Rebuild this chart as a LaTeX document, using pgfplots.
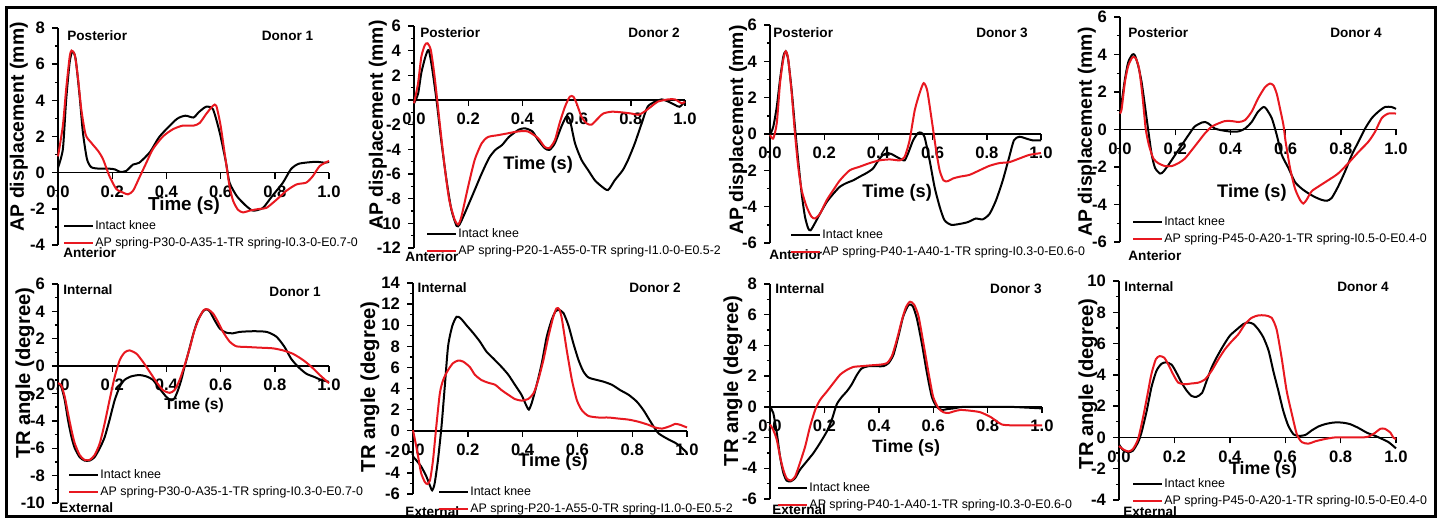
\documentclass[border=0pt]{standalone}
\usepackage{pgfplots}
\pgfplotsset{compat=1.18}
\usepackage{fontspec}
\setmainfont{Liberation Sans}
\definecolor{myred}{RGB}{232,24,32}
\newcommand{\lab}{\fontsize{6.8}{7}\selectfont\bfseries}
\tikzset{lb/.style={font=\lab, inner sep=0pt}}
\pgfplotsset{
 panel/.style={
  scale only axis, clip=false,
  xmin=0,xmax=1, xtick={0,0.2,0.4,0.6,0.8,1.0},
  axis x line=middle, axis y line=left, axis line style={-, line width=0.8pt},
  hide obscured x ticks=false, hide obscured y ticks=false,
  tick align=outside, major tick length=3pt, minor tick length=1.6pt,
  every tick/.style={black, line width=0.7pt},
  minor y tick num=1, minor x tick num=0,
  tick label style={font=\fontsize{8.3}{9}\selectfont\bfseries},
  /pgf/number format/assume math mode=true,
  xticklabel style={/pgf/number format/.cd, fixed, fixed zerofill, precision=1},
  legend cell align=left,
  legend image code/.code={\draw[##1] (0pt,0pt) -- (14.5pt,0pt);},
  legend style={draw=none, fill=none, anchor=north west, font=\fontsize{6.2}{7}\selectfont, inner sep=0pt, row sep=1.5pt, nodes={inner sep=0.5pt, text height=4.6pt, text depth=1.4pt}},
  x label style={anchor=center, font=\fontsize{9.1}{10}\selectfont\bfseries},
  y label style={anchor=center, font=\fontsize{9.7}{10}\selectfont\bfseries},
  xlabel={Time (s)},
 },
 blk/.style={black, line width=1pt, smooth, tension=0.4},
 rd/.style={color=myred, line width=1pt, smooth, tension=0.4},
}
\begin{document}
\begin{tikzpicture}
\useasboundingbox (0,0) rectangle (720pt,260pt);
% ---------------- Panel 1 ----------------
\begin{axis}[panel, at={(29pt,137.5pt)}, anchor=south west, width=135.5pt, height=108.5pt,
  ymin=-4, ymax=8, ytick={-4,-2,...,8},
  ylabel={AP displacement (mm)}, y label style={at={(axis description cs:-0.144,0.545)}},
  x label style={at={(axis description cs:0.465,0.18)}, font=\fontsize{9.4}{10}\selectfont\bfseries},
  legend style={at={(axis description cs:0.018,0.12)}}]
\addplot[blk] coordinates {(0,0.28) (0.018,1.3) (0.03,4.0) (0.043,6.1) (0.053,6.7) (0.065,6.3) (0.08,4.2) (0.092,2.2) (0.107,0.75) (0.123,0.3) (0.154,0.22) (0.19,0.22) (0.21,0.18) (0.23,0.04) (0.252,0.1) (0.277,0.45) (0.3,0.55) (0.34,1.15) (0.375,2.0) (0.437,2.95) (0.47,3.15) (0.5,3.05) (0.52,3.35) (0.547,3.65) (0.572,3.5) (0.597,2.2) (0.62,0.55) (0.633,-0.55) (0.66,-1.3) (0.695,-1.85) (0.72,-2.1) (0.756,-1.95) (0.79,-1.3) (0.83,-0.55) (0.86,0.2) (0.89,0.5) (0.95,0.6) (0.985,0.55) (1.0,0.6)};
\addlegendentry{Intact knee}
\addplot[rd] coordinates {(0,0.9) (0.018,2.6) (0.03,4.6) (0.043,6.4) (0.05,6.75) (0.062,6.5) (0.074,5.2) (0.086,3.5) (0.102,2.1) (0.123,1.65) (0.148,1.2) (0.166,0.75) (0.19,-0.2) (0.215,-0.9) (0.24,-1.1) (0.258,-1.2) (0.277,-1.0) (0.3,-0.28) (0.326,0.55) (0.35,1.3) (0.387,2.0) (0.424,2.4) (0.46,2.6) (0.5,2.6) (0.523,2.75) (0.547,3.25) (0.572,3.7) (0.584,3.7) (0.6,2.6) (0.62,0.55) (0.633,-0.75) (0.646,-1.55) (0.664,-2.05) (0.683,-2.2) (0.707,-2.1) (0.744,-2.0) (0.769,-1.95) (0.806,-1.5) (0.843,-1.0) (0.88,-0.65) (0.916,-0.55) (0.94,-0.2) (0.966,0.37) (1.0,0.65)};
\addlegendentry{AP spring-P30-0-A35-1-TR spring-I0.3-0-E0.7-0}
\node[lb, anchor=west] at (axis description cs:0.033,0.963) {Posterior};
\node[lb] at (axis description cs:0.847,0.963) {Donor 1};
\node[lb, anchor=west] at (axis description cs:0.018,-0.037) {Anterior};
\end{axis}
% ---------------- Panel 2 ----------------
\begin{axis}[panel, at={(207pt,136pt)}, anchor=south west, width=135.5pt, height=111pt,
  ymin=-12, ymax=6, ytick={-12,-10,...,6},
  ylabel={AP displacement (mm)}, y label style={at={(axis description cs:-0.133,0.554)}},
  x label style={at={(axis description cs:0.458,0.374)}},
  legend style={at={(axis description cs:0.044,0.095)}}]
\addplot[blk] coordinates {(0,-0.27) (0.015,0.5) (0.027,2.2) (0.042,3.5) (0.054,4.05) (0.066,2.7) (0.083,0) (0.1,-3.2) (0.12,-6.5) (0.138,-8.9) (0.157,-10.2) (0.168,-10.1) (0.187,-9.2) (0.224,-7.3) (0.25,-5.95) (0.277,-4.7) (0.3,-4.05) (0.325,-3.65) (0.35,-3.0) (0.387,-2.4) (0.41,-2.3) (0.437,-2.55) (0.458,-3.25) (0.482,-3.9) (0.5,-4.05) (0.52,-3.5) (0.544,-2.15) (0.562,-1.35) (0.575,-1.6) (0.594,-3.5) (0.618,-4.85) (0.643,-5.7) (0.667,-6.5) (0.692,-7.0) (0.716,-7.3) (0.741,-6.5) (0.77,-5.7) (0.79,-4.85) (0.815,-3.5) (0.84,-1.9) (0.862,-0.55) (0.89,-0.13) (0.914,0.05) (0.938,-0.13) (0.963,-0.4) (0.98,-0.55) (1.0,-0.13)};
\addlegendentry{Intact knee}
\addplot[rd] coordinates {(0,-0.27) (0.015,1.35) (0.027,3.5) (0.04,4.45) (0.05,4.6) (0.062,4.05) (0.076,1.9) (0.095,-1.9) (0.113,-5.4) (0.13,-8.1) (0.15,-9.7) (0.163,-10.1) (0.175,-9.45) (0.2,-7.0) (0.224,-4.85) (0.25,-3.5) (0.273,-3.0) (0.31,-2.85) (0.347,-2.7) (0.384,-2.55) (0.42,-2.55) (0.458,-3.1) (0.482,-3.8) (0.5,-3.9) (0.52,-3.25) (0.537,-1.9) (0.557,-0.55) (0.575,0.27) (0.588,0.27) (0.6,-0.27) (0.618,-1.35) (0.637,-1.9) (0.655,-2.0) (0.674,-1.6) (0.698,-1.1) (0.73,-0.95) (0.766,-1.0) (0.803,-1.1) (0.828,-1.2) (0.85,-0.95) (0.877,-0.5) (0.9,-0.13) (0.938,0.05) (0.963,0.05) (0.988,-0.27) (1.0,-0.13)};
\addlegendentry{AP spring-P20-1-A55-0-TR spring-I1.0-0-E0.5-2}
\node[lb, anchor=west] at (axis description cs:0.022,0.968) {Posterior};
\node[lb] at (axis description cs:0.886,0.968) {Donor 2};
\node[lb, anchor=west] at (axis description cs:-0.033,-0.04) {Anterior};
\end{axis}
% ---------------- Panel 3 ----------------
\begin{axis}[panel, at={(385pt,138.5pt)}, anchor=south west, width=135.5pt, height=109pt,
  ymin=-6, ymax=6, ytick={-6,-4,...,6},
  ylabel={AP displacement (mm)}, y label style={at={(axis description cs:-0.118,0.518)}},
  x label style={at={(axis description cs:0.469,0.229)}},
  legend style={at={(axis description cs:0.074,0.069)}}]
\addplot[blk] coordinates {(0,-0.05) (0.012,0.4) (0.025,1.5) (0.037,3.0) (0.049,4.25) (0.058,4.55) (0.067,4.1) (0.08,2.4) (0.092,0.4) (0.104,-1.45) (0.117,-3.3) (0.129,-4.55) (0.141,-5.2) (0.15,-5.3) (0.166,-4.9) (0.184,-4.4) (0.209,-3.75) (0.233,-3.3) (0.258,-2.9) (0.282,-2.7) (0.307,-2.55) (0.331,-2.35) (0.356,-2.15) (0.38,-1.9) (0.4,-1.45) (0.417,-1.15) (0.436,-1.05) (0.448,-1.1) (0.466,-1.25) (0.485,-1.4) (0.497,-1.45) (0.51,-1.05) (0.528,-0.35) (0.546,0.05) (0.558,0.07) (0.57,-0.15) (0.589,-1.45) (0.607,-2.9) (0.626,-4.0) (0.644,-4.75) (0.669,-5.0) (0.7,-4.95) (0.73,-4.85) (0.76,-4.65) (0.785,-4.7) (0.81,-4.4) (0.834,-3.65) (0.859,-2.55) (0.883,-1.25) (0.9,-0.35) (0.92,-0.15) (0.945,-0.25) (0.969,-0.35) (1.0,-0.35)};
\addlegendentry{Intact knee}
\addplot[rd] coordinates {(0,-0.05) (0.012,-0.25) (0.025,0.6) (0.037,2.8) (0.049,4.1) (0.058,4.55) (0.067,4.15) (0.08,2.25) (0.092,0.05) (0.104,-1.8) (0.117,-3.1) (0.135,-4.0) (0.153,-4.55) (0.166,-4.65) (0.184,-4.4) (0.209,-3.65) (0.233,-3.1) (0.258,-2.55) (0.294,-2.0) (0.331,-1.8) (0.368,-1.6) (0.405,-1.45) (0.442,-1.4) (0.479,-1.45) (0.497,-1.25) (0.515,-0.35) (0.534,1.3) (0.552,2.25) (0.567,2.8) (0.58,2.4) (0.595,0.95) (0.613,-0.9) (0.626,-2.0) (0.64,-2.55) (0.656,-2.6) (0.675,-2.45) (0.7,-2.35) (0.736,-2.25) (0.773,-2.0) (0.81,-1.75) (0.847,-1.6) (0.883,-1.55) (0.92,-1.35) (0.957,-1.15) (1.0,-1.05)};
\addlegendentry{AP spring-P40-1-A40-1-TR spring-I0.3-0-E0.6-0}
\node[lb, anchor=west] at (axis description cs:0.011,0.963) {Posterior};
\node[lb] at (axis description cs:0.856,0.963) {Donor 3};
\node[lb, anchor=west] at (axis description cs:-0.004,-0.055) {Anterior};
\end{axis}
% ---------------- Panel 4 ----------------
\begin{axis}[panel, at={(560pt,139pt)}, anchor=south west, width=138pt, height=112.5pt,
  ymin=-6, ymax=6, ytick={-6,-4,...,6},
  ylabel={AP displacement (mm)}, y label style={at={(axis description cs:-0.12,0.489)}},
  x label style={at={(axis description cs:0.478,0.218)}},
  legend style={at={(axis description cs:0.043,0.12)}}]
\addplot[blk] coordinates {(0,1.05) (0.006,1.45) (0.018,2.7) (0.03,3.6) (0.045,4.0) (0.054,3.95) (0.066,3.4) (0.078,2.55) (0.09,1.3) (0.103,-0.12) (0.115,-1.35) (0.127,-2.05) (0.145,-2.35) (0.157,-2.25) (0.175,-1.9) (0.2,-1.35) (0.223,-0.85) (0.248,-0.3) (0.27,0.15) (0.296,0.37) (0.308,0.4) (0.32,0.32) (0.344,0.05) (0.368,-0.04) (0.405,-0.12) (0.43,-0.1) (0.453,0.05) (0.477,0.4) (0.5,0.95) (0.52,1.2) (0.53,1.1) (0.55,0.6) (0.568,-0.3) (0.586,-1.35) (0.61,-2.05) (0.634,-2.8) (0.658,-3.15) (0.682,-3.4) (0.706,-3.6) (0.73,-3.75) (0.75,-3.8) (0.767,-3.65) (0.79,-3.05) (0.815,-2.25) (0.84,-1.35) (0.864,-0.65) (0.888,0.05) (0.912,0.6) (0.936,0.95) (0.96,1.2) (0.984,1.2) (1.0,1.1)};
\addlegendentry{Intact knee}
\addplot[rd] coordinates {(0,0.85) (0.006,1.1) (0.018,2.55) (0.03,3.4) (0.045,3.85) (0.057,3.8) (0.069,3.25) (0.081,1.85) (0.093,0.05) (0.105,-0.85) (0.121,-1.55) (0.139,-1.8) (0.163,-1.95) (0.187,-1.95) (0.211,-1.8) (0.235,-1.55) (0.26,-1.1) (0.284,-0.65) (0.308,-0.2) (0.332,0.15) (0.356,0.32) (0.38,0.45) (0.405,0.45) (0.43,0.4) (0.453,0.5) (0.477,0.95) (0.5,1.65) (0.525,2.25) (0.543,2.45) (0.556,2.35) (0.568,1.9) (0.58,1.1) (0.592,0.25) (0.6,-0.65) (0.616,-2.05) (0.634,-3.15) (0.652,-3.75) (0.664,-3.95) (0.676,-3.75) (0.694,-3.3) (0.718,-3.05) (0.755,-2.7) (0.79,-2.35) (0.827,-1.8) (0.864,-1.2) (0.9,-0.65) (0.924,-0.12) (0.948,0.6) (0.972,0.85) (1.0,0.85)};
\addlegendentry{AP spring-P45-0-A20-1-TR spring-I0.5-0-E0.4-0}
\node[lb, anchor=west] at (axis description cs:0.029,0.929) {Posterior};
\node[lb] at (axis description cs:0.855,0.929) {Donor 4};
\node[lb, anchor=west] at (axis description cs:0.029,-0.062) {Anterior};
\end{axis}
% ---------------- Panel 5 ----------------
\begin{axis}[panel, at={(29pt,8.5pt)}, anchor=south west, width=135.5pt, height=109.5pt,
  ymin=-10, ymax=6, ytick={-10,-8,...,6},
  ylabel={TR angle (degree)}, y label style={at={(axis description cs:-0.122,0.594)}, font=\fontsize{10.1}{11}\selectfont\bfseries},
  x label style={at={(axis description cs:0.502,0.447)}, font=\fontsize{7.8}{9}\selectfont\bfseries},
  legend style={at={(axis description cs:0.037,0.16)}}]
\addplot[blk] coordinates {(0,-1.25) (0.012,-1.5) (0.025,-2.5) (0.037,-3.95) (0.05,-5.2) (0.062,-6.0) (0.08,-6.65) (0.098,-6.9) (0.117,-6.9) (0.135,-6.65) (0.154,-6.0) (0.172,-5.2) (0.19,-3.95) (0.209,-2.5) (0.228,-1.5) (0.246,-1.0) (0.27,-0.75) (0.3,-0.65) (0.326,-0.75) (0.35,-1.0) (0.375,-1.65) (0.4,-2.25) (0.418,-2.5) (0.43,-2.35) (0.443,-1.75) (0.455,-1.0) (0.467,-0.05) (0.48,0.9) (0.5,2.4) (0.516,3.35) (0.535,4.0) (0.547,4.15) (0.56,4.0) (0.578,3.35) (0.597,2.75) (0.62,2.45) (0.646,2.4) (0.67,2.5) (0.72,2.55) (0.77,2.5) (0.806,2.15) (0.836,1.4) (0.86,0.55) (0.886,-0.05) (0.916,-0.55) (0.947,-0.8) (0.97,-1.0) (1.0,-1.15)};
\addlegendentry{Intact knee}
\addplot[rd] coordinates {(0,-1.25) (0.012,-1.4) (0.025,-2.25) (0.037,-3.45) (0.05,-4.7) (0.062,-5.65) (0.08,-6.5) (0.098,-6.85) (0.117,-6.85) (0.135,-6.5) (0.154,-5.65) (0.172,-4.2) (0.19,-2.5) (0.209,-0.8) (0.228,0.45) (0.246,1.0) (0.264,1.15) (0.29,0.9) (0.314,0.3) (0.338,-0.4) (0.363,-1.15) (0.387,-1.75) (0.412,-1.95) (0.43,-1.75) (0.449,-1.0) (0.467,0.05) (0.486,1.3) (0.504,2.65) (0.523,3.6) (0.538,4.1) (0.553,4.15) (0.572,3.85) (0.59,3.25) (0.609,2.5) (0.633,1.8) (0.658,1.45) (0.695,1.4) (0.744,1.35) (0.793,1.3) (0.83,1.15) (0.867,0.9) (0.904,0.45) (0.935,-0.05) (0.966,-0.65) (1.0,-1.25)};
\addlegendentry{AP spring-P30-0-A35-1-TR spring-I0.3-0-E0.7-0}
\node[lb, anchor=west] at (axis description cs:0.018,0.973) {Internal};
\node[lb] at (axis description cs:0.875,0.963) {Donor 1};
\node[lb, anchor=west] at (axis description cs:0.004,-0.023) {External};
\end{axis}
% ---------------- Panel 6 ----------------
\begin{axis}[panel, at={(206.5pt,13pt)}, anchor=south west, width=137pt, height=105.5pt,
  ymin=-6, ymax=14, ytick={-6,-4,...,14},
  ylabel={TR angle (degree)}, y label style={at={(axis description cs:-0.157,0.507)}, font=\fontsize{10.1}{11}\selectfont\bfseries},
  x label style={at={(axis description cs:0.511,0.152)}},
  legend style={at={(axis description cs:0.091,0.043)}}]
\addplot[blk] coordinates {(0,-2.45) (0.012,-2.8) (0.03,-3.4) (0.049,-4.35) (0.061,-5.15) (0.07,-5.65) (0.079,-5.0) (0.091,-2.8) (0.104,0.4) (0.116,4.2) (0.128,8.0) (0.143,9.9) (0.159,10.8) (0.174,10.65) (0.195,10.0) (0.22,9.25) (0.244,8.45) (0.268,7.5) (0.293,6.85) (0.323,6.05) (0.348,5.3) (0.372,4.35) (0.396,3.4) (0.415,2.3) (0.423,2.0) (0.433,2.6) (0.45,4.2) (0.47,6.4) (0.488,8.9) (0.506,10.5) (0.52,11.3) (0.533,11.45) (0.549,11.15) (0.567,10.0) (0.585,8.3) (0.604,6.7) (0.622,5.6) (0.64,5.05) (0.665,4.85) (0.695,4.65) (0.726,4.35) (0.756,3.85) (0.787,3.4) (0.817,2.75) (0.841,1.95) (0.86,1.15) (0.878,0.4) (0.896,-0.25) (0.927,-0.75) (0.957,-1.15) (0.976,-1.5) (1.0,-2.1)};
\addlegendentry{Intact knee}
\addplot[rd] coordinates {(0,0.05) (0.012,-1.5) (0.021,-2.8) (0.03,-4.05) (0.043,-4.85) (0.052,-5.05) (0.062,-4.7) (0.073,-2.8) (0.085,0.4) (0.098,3.55) (0.11,4.8) (0.128,5.75) (0.146,6.4) (0.165,6.65) (0.183,6.55) (0.207,6.05) (0.226,5.3) (0.25,4.8) (0.274,4.55) (0.3,4.35) (0.323,3.85) (0.348,3.4) (0.372,3.0) (0.396,2.85) (0.42,3.0) (0.44,3.55) (0.457,4.8) (0.476,6.7) (0.494,8.9) (0.512,10.8) (0.524,11.6) (0.534,11.5) (0.543,10.65) (0.561,7.65) (0.58,4.8) (0.598,2.9) (0.616,1.95) (0.64,1.4) (0.677,1.25) (0.713,1.25) (0.75,1.15) (0.787,1.05) (0.823,0.85) (0.86,0.55) (0.884,0.3) (0.909,0.2) (0.94,0.45) (0.957,0.65) (0.976,0.55) (1.0,0.3)};
\addlegendentry{AP spring-P20-1-A55-0-TR spring-I1.0-0-E0.5-2}
\node[lb, anchor=west] at (axis description cs:0.015,0.976) {Internal};
\node[lb] at (axis description cs:0.883,0.976) {Donor 2};
\node[lb, anchor=west] at (axis description cs:-0.029,-0.085) {External};
\end{axis}
% ---------------- Panel 7 ----------------
\begin{axis}[panel, at={(385pt,10.5pt)}, anchor=south west, width=136pt, height=107.5pt,
  ymin=-6, ymax=8, ytick={-6,-4,...,8},
  ylabel={TR angle (degree)}, y label style={at={(axis description cs:-0.136,0.549)}, font=\fontsize{10.1}{11}\selectfont\bfseries},
  x label style={at={(axis description cs:0.5,0.237)}, font=\fontsize{8.9}{10}\selectfont\bfseries},
  legend style={at={(axis description cs:0.026,0.084)}}]
\addplot[blk] coordinates {(0,0.0) (0.012,-0.4) (0.025,-1.7) (0.037,-3.25) (0.049,-4.3) (0.061,-4.8) (0.076,-4.85) (0.092,-4.65) (0.11,-4.1) (0.135,-3.55) (0.16,-3.0) (0.184,-2.35) (0.209,-1.6) (0.227,-0.85) (0.245,0.15) (0.264,0.65) (0.282,1.0) (0.3,1.45) (0.32,2.1) (0.337,2.5) (0.362,2.65) (0.393,2.65) (0.417,2.65) (0.436,2.85) (0.454,3.4) (0.472,4.6) (0.49,5.9) (0.51,6.65) (0.525,6.55) (0.54,5.75) (0.558,4.15) (0.577,2.2) (0.595,0.65) (0.613,0.0) (0.632,-0.2) (0.65,-0.15) (0.675,-0.1) (0.71,0.0) (0.8,0.0) (0.883,0.0) (0.945,-0.05) (1.0,-0.1)};
\addlegendentry{Intact knee}
\addplot[rd] coordinates {(0,-1.15) (0.012,-1.5) (0.025,-2.15) (0.037,-3.25) (0.049,-4.1) (0.061,-4.65) (0.076,-4.8) (0.092,-4.55) (0.11,-3.65) (0.129,-2.6) (0.147,-1.3) (0.166,-0.2) (0.184,0.45) (0.209,1.0) (0.233,1.55) (0.258,2.1) (0.282,2.4) (0.307,2.6) (0.337,2.65) (0.368,2.7) (0.405,2.75) (0.43,2.85) (0.448,3.3) (0.466,4.35) (0.485,5.65) (0.5,6.5) (0.515,6.85) (0.53,6.65) (0.546,5.9) (0.564,4.15) (0.583,2.2) (0.6,0.65) (0.62,-0.1) (0.638,-0.35) (0.656,-0.4) (0.675,-0.3) (0.7,-0.2) (0.736,-0.25) (0.773,-0.35) (0.81,-0.65) (0.834,-0.95) (0.853,-1.15) (0.883,-1.2) (0.945,-1.2) (1.0,-1.2)};
\addlegendentry{AP spring-P40-1-A40-1-TR spring-I0.3-0-E0.6-0}
\node[lb, anchor=west] at (axis description cs:0.018,0.977) {Internal};
\node[lb] at (axis description cs:0.904,0.977) {Donor 3};
\node[lb, anchor=west] at (axis description cs:0.007,-0.051) {External};
\end{axis}
% ---------------- Panel 8 ----------------
\begin{axis}[panel, at={(559.5pt,10pt)}, anchor=south west, width=138.5pt, height=109.5pt,
  ymin=-4, ymax=10, ytick={-4,-2,...,10},
  ylabel={TR angle (degree)}, y label style={at={(axis description cs:-0.112,0.53)}, font=\fontsize{10.1}{11}\selectfont\bfseries},
  x label style={at={(axis description cs:0.52,0.137)}, font=\fontsize{8.9}{10}\selectfont\bfseries},
  legend style={at={(axis description cs:0.047,0.105)}}]
\addplot[blk] coordinates {(0,-0.45) (0.014,-0.8) (0.033,-0.95) (0.05,-0.85) (0.069,-0.3) (0.081,0.3) (0.1,1.7) (0.117,3.2) (0.135,4.25) (0.153,4.7) (0.17,4.8) (0.19,4.65) (0.207,4.15) (0.226,3.5) (0.244,3.0) (0.262,2.65) (0.28,2.6) (0.3,2.85) (0.316,3.6) (0.334,4.45) (0.352,5.1) (0.376,5.85) (0.4,6.5) (0.425,6.9) (0.449,7.25) (0.467,7.35) (0.485,7.25) (0.503,6.9) (0.521,6.4) (0.54,5.55) (0.557,4.25) (0.575,3.0) (0.593,1.7) (0.611,0.75) (0.63,0.2) (0.648,0.1) (0.672,0.15) (0.696,0.45) (0.72,0.7) (0.744,0.85) (0.774,0.95) (0.804,0.95) (0.834,0.85) (0.865,0.6) (0.895,0.3) (0.925,0.1) (0.95,-0.1) (0.973,-0.3) (1.0,-0.7)};
\addlegendentry{Intact knee}
\addplot[rd] coordinates {(0,-0.55) (0.014,-0.75) (0.033,-0.9) (0.05,-0.75) (0.069,-0.1) (0.087,1.3) (0.103,2.75) (0.117,4.05) (0.133,5.0) (0.147,5.2) (0.163,5.1) (0.177,4.7) (0.195,4.05) (0.214,3.5) (0.238,3.4) (0.262,3.45) (0.286,3.5) (0.31,3.7) (0.334,4.25) (0.359,5.0) (0.383,5.65) (0.407,6.15) (0.431,6.6) (0.455,7.25) (0.479,7.65) (0.503,7.8) (0.527,7.8) (0.551,7.65) (0.569,6.9) (0.587,5.1) (0.605,3.0) (0.624,1.5) (0.642,0.2) (0.66,-0.3) (0.684,-0.4) (0.708,-0.25) (0.744,-0.1) (0.78,0.0) (0.829,0.0) (0.877,0.0) (0.9,0.05) (0.925,0.3) (0.943,0.55) (0.96,0.55) (0.98,0.3) (0.99,0.0) (1.0,-0.1)};
\addlegendentry{AP spring-P45-0-A20-1-TR spring-I0.5-0-E0.4-0}
\node[lb, anchor=west] at (axis description cs:0.018,0.973) {Internal};
\node[lb] at (axis description cs:0.881,0.973) {Donor 4};
\node[lb, anchor=west] at (axis description cs:0.014,-0.055) {External};
\end{axis}
\draw[line width=1.5pt] (3pt,2pt) rectangle (717.5pt,256pt);
\end{tikzpicture}
\end{document}
